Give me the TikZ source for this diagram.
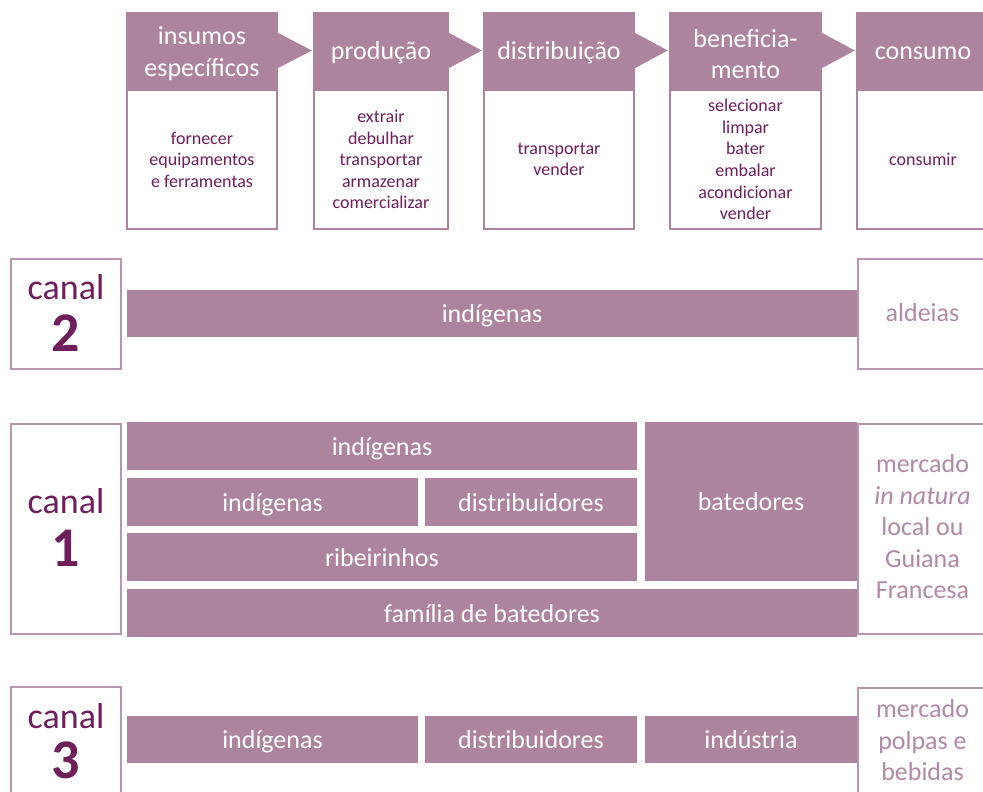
\documentclass[tikz,border=0pt]{standalone}
\usepackage{fontspec}
\setmainfont{Carlito}
\definecolor{barc}{RGB}{173,132,157}
\definecolor{darkp}{RGB}{110,30,90}
\definecolor{lightb}{RGB}{184,150,176}
\definecolor{endtxt}{RGB}{176,138,165}
\newcommand\fhdr{\fontsize{26}{31.7}\selectfont}
\newcommand\fbody{\fontsize{18}{21.6}\selectfont}
\newcommand\fbar{\fontsize{26}{31.5}\selectfont}
\newcommand\fcanal{\fontsize{36}{40}\selectfont}
\newcommand\fdigit{\fontsize{56}{60}\bfseries\selectfont}
\tikzset{
  hdr/.style={fill=barc, inner sep=0pt, minimum height=77pt},
  hdrtext/.style={text=white, font=\fhdr, align=center, inner sep=0pt},
  bodybox/.style={draw=barc, line width=2pt, fill=white, text=darkp, font=\fbody, align=center, inner sep=0pt, minimum height=139pt},
  chev/.style={fill=barc},
  bar/.style={fill=barc, text=white, font=\fbar, inner sep=0pt, minimum height=47pt, text height=24pt, text depth=6pt},
  canalbox/.style={draw=lightb, line width=2pt, fill=white, inner sep=0pt, minimum width=110pt},
  endbox/.style={draw=lightb, line width=2pt, fill=white, inner sep=0pt, minimum width=132pt},
  endtext/.style={text=endtxt, font=\fbar, align=center, inner sep=0pt},
  canaltxt/.style={text=darkp, font=\fcanal, inner sep=0pt},
  digittxt/.style={text=darkp, font=\fdigit, inner sep=0pt}
}
\begin{document}
\begin{tikzpicture}[x=1pt, y=-1pt]
\useasboundingbox (0,0) rectangle (983,792);
\clip (0,0) rectangle (983,792);
% header row
\node[hdr, minimum width=152pt] (h1) at (202,50.5) {};
\node[hdr, minimum width=136pt] (h2) at (381,50.5) {};
\node[hdr, minimum width=152pt] (h3) at (559,50.5) {};
\node[hdr, minimum width=153pt] (h4) at (745.5,50.5) {};
\node[hdr, minimum width=134pt] (h5) at (923,50.5) {};
\node[hdrtext] (h1t) at ([yshift=-3.5pt]h1.center) {insumos\\específicos};
\node[hdrtext] (h2t) at ([yshift=-2.5pt]h2.center) {produção};
\node[hdrtext] (h3t) at ([yshift=-2.5pt]h3.center) {distribuição};
\node[hdrtext] (h4t) at ([yshift=-3.5pt]h4.center) {beneficia-\\mento};
\node[hdrtext] (h5t) at ([yshift=-2.5pt]h5.center) {consumo};
\fill[chev] ([yshift=17.5pt]h1.east) -- ([yshift=-17.5pt]h1.east) -- ([xshift=-1pt]h2.west) -- cycle;
\fill[chev] ([yshift=17.5pt]h2.east) -- ([yshift=-17.5pt]h2.east) -- ([xshift=-1pt]h3.west) -- cycle;
\fill[chev] ([yshift=17.5pt]h3.east) -- ([yshift=-17.5pt]h3.east) -- ([xshift=-1pt]h4.west) -- cycle;
\fill[chev] ([yshift=17.5pt]h4.east) -- ([yshift=-17.5pt]h4.east) -- ([xshift=-1pt]h5.west) -- cycle;
\node[bodybox, minimum width=150pt] (d1) at (202,159.5) {fornecer\\equipamentos\\e ferramentas};
\node[bodybox, minimum width=134pt] (d2) at (381,159.5) {extrair\\debulhar\\transportar\\armazenar\\comercializar};
\node[bodybox, minimum width=150pt] (d3) at (559,159.5) {transportar\\vender};
\node[bodybox, minimum width=151pt] (d4) at (745.5,159.5) {selecionar\\limpar\\bater\\embalar\\acondicionar\\vender};
\node[bodybox, minimum width=132pt] (d5) at (923,159.5) {consumir};
% canal 2
\node[canalbox, minimum height=110pt] (c2) at (66,314) {};
\node[canaltxt] (c2a) at (66,287.5) {canal};
\node[digittxt] (c2b) at (66,333) {2};
\node[bar, minimum width=730pt] (b2) at (492,313.5) {indígenas};
\node[endbox, minimum height=110pt] (e2) at (924,314) {};
\node[endtext] (e2t) at (922.5,313) {aldeias};
% canal 1
\node[canalbox, minimum height=210pt] (c1) at (66,529) {};
\node[canaltxt] (c1a) at (66,501.5) {canal};
\node[digittxt] (c1b) at (66,548) {1};
\node[bar, minimum width=510pt, minimum height=48pt] (r1) at (382,446) {indígenas};
\node[bar, minimum width=291pt, minimum height=48pt] (r2a) at (272.5,502) {indígenas};
\node[bar, minimum width=212pt, minimum height=48pt] (r2b) at (531,502) {distribuidores};
\node[bar, minimum width=510pt, minimum height=48pt] (r3) at (382,557) {ribeirinhos};
\node[bar, minimum width=730pt, minimum height=48pt] (r4) at (492,613) {família de batedores};
\node[bar, minimum width=212pt, minimum height=159pt] (bt) at (751,501.5) {batedores};
\node[endbox, minimum height=210pt] (e1) at (924,529) {};
\node[endtext] (e1t) at (922.5,527) {mercado\\\textit{in natura}\\local ou\\Guiana\\Francesa};
% canal 3
\node[canalbox, minimum height=123pt] (c3) at (66,748.5) {};
\node[canaltxt] (c3a) at (66,716.5) {canal};
\node[digittxt] (c3b) at (66,760) {3};
\node[bar, minimum width=291pt] (s1) at (272.5,739.5) {indígenas};
\node[bar, minimum width=212pt] (s2) at (531,739.5) {distribuidores};
\node[bar, minimum width=212pt] (s3) at (751,739.5) {indústria};
\node[endbox, minimum height=122pt] (e3) at (924,749) {};
\node[endtext] (e3t) at (922.5,740.5) {mercado\\polpas e\\bebidas};
\end{tikzpicture}
\end{document}
